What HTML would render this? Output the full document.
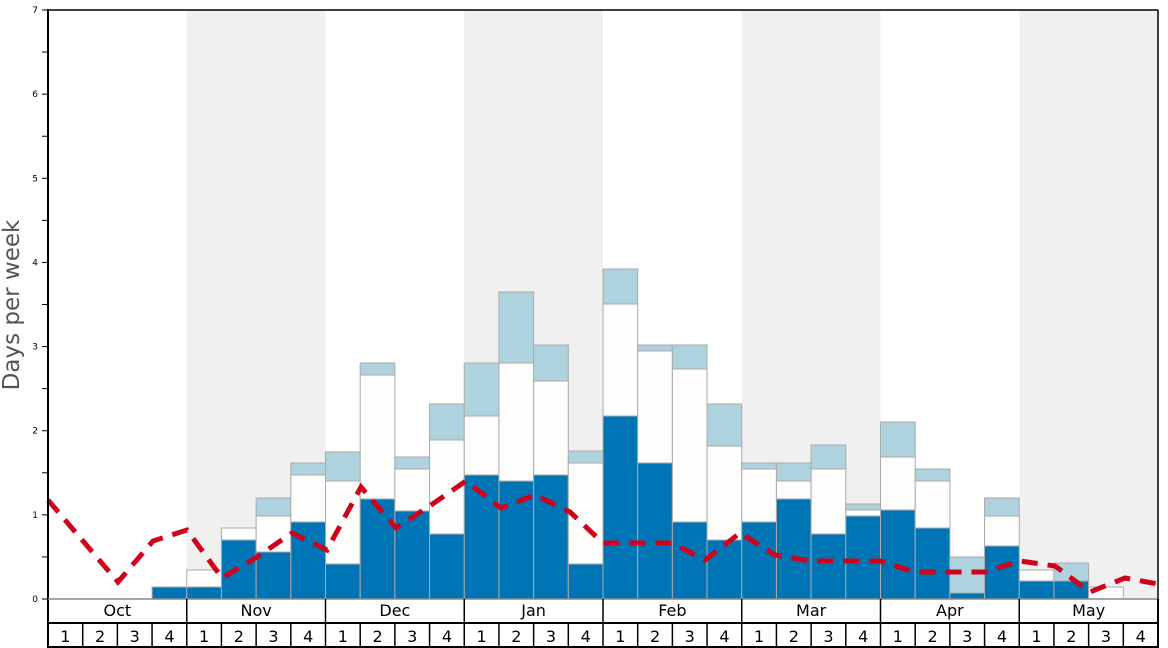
<!DOCTYPE html>
<html><head><meta charset="utf-8"><style>
html,body{margin:0;padding:0;background:#fff}
svg{display:block;font-family:"DejaVu Sans","Liberation Sans",sans-serif}
</style></head><body>
<svg id="s" width="1168" height="648" viewBox="0 0 1168 648" xmlns="http://www.w3.org/2000/svg">
<rect width="1168" height="648" fill="#fff"/>
<g id="bg"></g><g id="bars"></g>
<polyline fill="none" stroke="#d0021b" stroke-width="5" stroke-dasharray="16,10" points="48,500 118,582 153,541 187,530 222,578 257,557 292,533 327,550 361,487 396,528 431,505 466,481 501,508 535,495 570,512 603,543 672,543 705,560 740,533 775,555 810,561 880,561 915,572 985,572 1020,561 1055,566 1090,592 1125,578 1158,584"/>
<g id="ax"></g>
<text transform="translate(19,305) rotate(-90)" text-anchor="middle" font-size="23" fill="#555">Days per week</text>
</svg>
<script>
const NS="http://www.w3.org/2000/svg";
function el(p,t,a,txt){const e=document.createElementNS(NS,t);for(const k in a)e.setAttribute(k,a[k]);if(txt!=null)e.textContent=txt;document.getElementById(p).appendChild(e);}
const x0=48,x1=1158,w=(x1-x0)/32,y0=599;
for(let m=1;m<8;m+=2)el('bg','rect',{x:x0+m*4*w,y:10,width:4*w,height:589,fill:'#f0f0f0'});
const d=[null,null,null,[587],[587,570],[540,528],[552,516,498],[522,475,463],[564,481,452],[499,375,363],[511,469,457],[534,440,404],
[475,416,363],[481,363,292],[475,381,345],[564,463,451],[416,304,269],[463,351,345],[522,369,345],[540,446,404],
[522,469,463],[499,481,463],[534,469,445],[516,510,504],[510,457,422],[528,481,469],[593,593,557],[546,516,498],[581,570],[581,581,563],[599,587],null];
d.forEach((v,i)=>{if(!v)return;const x=x0+i*w;const c=['#0075b5','#fdfdfb','#aed3df'];let prev=y0;
v.forEach((y,j)=>{if(y<prev)el('bars','rect',{x:x,y:y,width:w,height:prev-y,fill:c[j],stroke:'#aaa','stroke-width':1});prev=Math.min(prev,y);});});
// axes
el('ax','line',{x1:x0,y1:10,x2:x1,y2:10,stroke:'#000','stroke-width':1.5});
el('ax','line',{x1:x1,y1:10,x2:x1,y2:599,stroke:'#000','stroke-width':1.5});
el('ax','line',{x1:x0,y1:9,x2:x0,y2:648,stroke:'#000','stroke-width':2});
el('ax','line',{x1:x0,y1:599,x2:x1,y2:599,stroke:'#888','stroke-width':1.5});
for(let i=0;i<=14;i++){const y=y0-i*84.14/2;el('ax','line',{x1:42,y1:y,x2:x0,y2:y,stroke:'#000','stroke-width':1});
if(i%2==0)el('ax','text',{x:38,y:y+3,'font-size':9,'text-anchor':'end',fill:'#000'},i/2);}
el('ax','line',{x1:x0,y1:623,x2:x1,y2:623,stroke:'#000','stroke-width':2});
el('ax','line',{x1:x0,y1:647,x2:x1,y2:647,stroke:'#000','stroke-width':2});
el('ax','line',{x1:x1,y1:599,x2:x1,y2:648,stroke:'#000','stroke-width':2});
const ms=['Oct','Nov','Dec','Jan','Feb','Mar','Apr','May'];
ms.forEach((m,i)=>{const x=x0+i*4*w;if(i>0)el('ax','line',{x1:x,y1:599,x2:x,y2:623,stroke:'#000','stroke-width':1.5});
el('ax','text',{x:x+2*w,y:616,'font-size':16,'text-anchor':'middle',fill:'#000'},m);});
for(let i=0;i<32;i++){const x=x0+i*w;if(i>0)el('ax','line',{x1:x,y1:623,x2:x,y2:647,stroke:'#000','stroke-width':1.5});
el('ax','text',{x:x+w/2,y:642,'font-size':16,'text-anchor':'middle',fill:'#000'},(i%4)+1);}
</script>
</body></html>
